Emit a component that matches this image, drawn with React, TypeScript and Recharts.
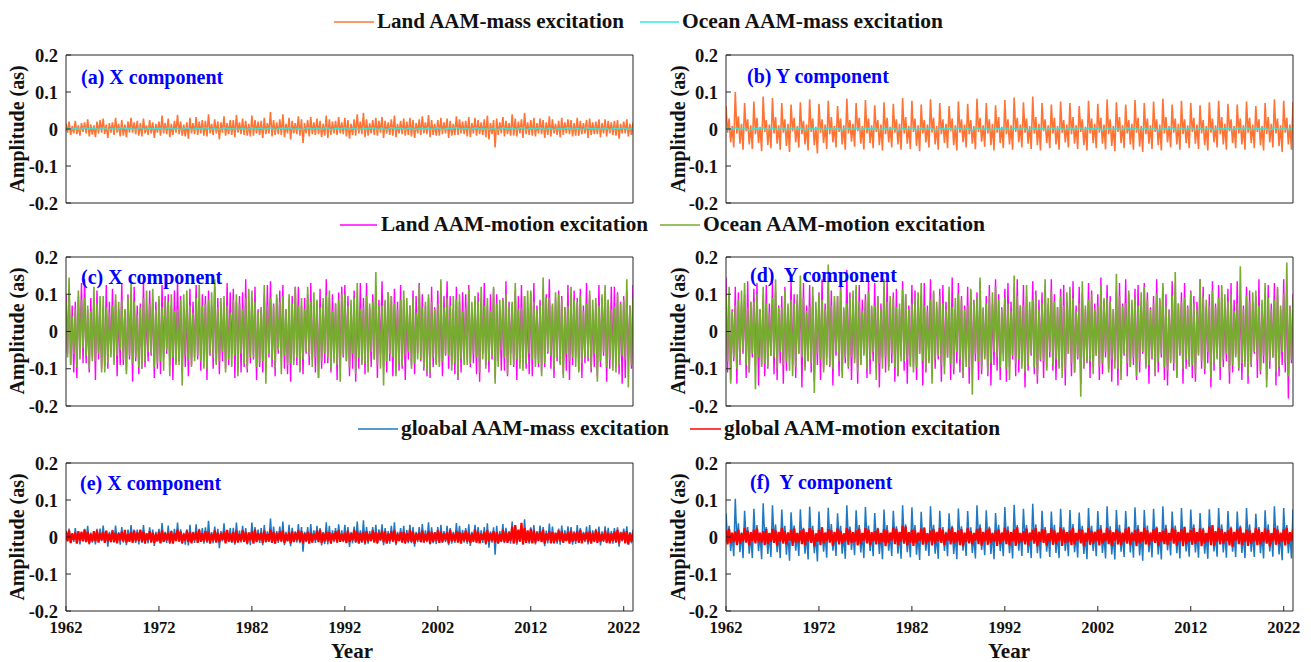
import React from "react";
import { LineChart, Line, XAxis, YAxis } from "recharts";

const FONT = '"Liberation Serif", "Times New Roman", serif';
const AX = "#262626";

const YEAR_TICKS = [1962, 1972, 1982, 1992, 2002, 2012, 2022];
const AMP_TICKS = [-0.2, -0.1, 0, 0.1, 0.2];

// values in milli-arcseconds, 6 samples per year from 1962.0 to 2023.0 (one line = 5 years)
const landMassX = [
  14,-10,20,-16,8,-12, 22,-14,10,-18,16,-8, 18,-12,26,-20,12,-15, 10,-22,20,-12,24,-10, 28,-14,12,-24,16,-10,
  18,-16,30,-10,14,-20, 24,-18,12,-22,20,-10, 30,-10,18,-14,22,-18, 16,-20,28,-12,10,-16, 24,-12,18,-24,14,-10,
  20,-18,36,-12,16,-14, 28,-22,14,-16,22,-10, 38,-14,20,-18,12,-20, 18,-26,30,-12,16,-14, 32,-16,20,-12,24,-18,
  22,-20,40,-12,14,-16, 26,-12,20,-28,18,-10, 34,-18,16,-14,24,-16, 24,-22,38,-10,18,-14, 28,-16,22,-18,14,-20,
  36,-18,24,-12,20,-16, 22,-24,30,-14,16,-12, 46,-20,24,-16,18,-14, 26,-16,40,-22,14,-12, 30,-28,22,-12,16,-14,
  34,-18,26,-38,16,-12, 24,-20,32,-14,18,-16, 28,-14,22,-22,14,-18, 36,-24,26,-16,20,-12, 22,-16,32,-12,18,-14,
  30,-20,24,-26,14,-16, 26,-18,40,-12,20,-14, 44,-22,26,-18,16,-12, 24,-16,30,-18,22,-10, 32,-24,22,-12,18,-16,
  26,-18,36,-22,14,-12, 22,-14,28,-18,20,-16, 30,-20,24,-24,16,-12, 26,-16,34,-12,18,-14, 38,-22,24,-16,14,-18,
  24,-18,30,-14,18,-12, 28,-24,22,-18,14,-16, 34,-16,26,-12,20,-14, 22,-20,32,-22,16,-12, 30,-18,24,-14,18,-16,
  26,-22,36,-28,16,-14, 24,-50,28,-16,18,-12, 32,-20,22,-14,16,-18, 40,-18,28,-20,20,-12, 26,-24,44,-14,18,-16,
  24,-18,30,-20,16,-12, 28,-14,24,-24,18,-16, 34,-20,26,-12,14,-16, 22,-22,30,-16,18,-12, 26,-14,24,-20,16,-18,
  30,-18,22,-14,16,-12, 24,-24,28,-16,18,-14, 20,-14,26,-22,16,-12, 26,-20,22,-12,18,-16, 22,-18,24,-26,14,-12,
  20,-12,26,-20,14,-16, 18,
];

const landMassY = [
  62,-10,28,-36,8,-50, 100,-12,34,-40,14,-56, 70,-6,26,-42,10,-54, 74,-14,30,-38,6,-60, 88,-8,24,-44,12,-52,
  84,-12,32,-40,10,-56, 70,-10,26,-46,14,-62, 66,-6,30,-36,8,-50, 72,-14,22,-42,12,-58, 80,-8,28,-44,6,-66,
  68,-10,26,-38,12,-54, 76,-14,32,-36,8,-50, 62,-8,28,-42,10,-56, 82,-12,24,-34,14,-48, 70,-6,30,-40,8,-55,
  78,-12,28,-38,10,-52, 64,-8,24,-44,12,-58, 72,-14,30,-36,6,-50, 68,-10,26,-42,14,-56, 84,-12,32,-40,8,-54,
  76,-8,28,-46,10,-60, 66,-12,24,-36,12,-50, 80,-10,30,-42,8,-56, 70,-14,26,-38,14,-52, 62,-6,28,-44,10,-58,
  74,-10,26,-36,12,-50, 68,-14,24,-40,8,-55, 82,-8,30,-34,10,-48, 70,-12,26,-44,14,-58, 64,-10,32,-38,6,-52,
  78,-14,26,-42,10,-56, 85,-8,30,-36,12,-50, 72,-10,28,-40,8,-54, 88,-12,32,-44,14,-58, 70,-6,26,-38,10,-52,
  66,-12,30,-42,8,-56, 74,-10,24,-36,12,-50, 70,-14,32,-40,10,-54, 62,-8,26,-44,6,-58, 76,-12,28,-38,14,-52,
  68,-10,30,-40,12,-55, 80,-14,26,-46,8,-60, 72,-8,32,-38,10,-52, 66,-12,24,-42,14,-56, 78,-10,30,-48,8,-62,
  70,-14,28,-40,10,-54, 74,-8,26,-44,12,-58, 82,-12,32,-36,8,-50, 66,-10,28,-42,14,-56, 76,-14,26,-38,10,-52,
  70,-8,30,-40,12,-54, 64,-12,24,-44,8,-58, 72,-10,28,-36,10,-50, 76,-14,32,-42,14,-56, 68,-6,26,-38,8,-52,
  66,-12,28,-42,10,-56, 74,-10,30,-38,12,-52, 62,-8,26,-44,8,-58, 70,-14,32,-36,14,-50, 80,-12,28,-46,10,-62,
  76,-10,30,-42,12,-56, 72,
];

// ocean mass terms: 2 samples per year (one line = 10 years)
const oceanMassX = [
  3,-1,2,-2,4,0,2,-1,3,-2,1,-1,3,0,2,-2,4,-1,2,0,
  2,-2,3,0,1,-1,3,-2,2,0,4,-1,2,-2,3,0,1,-1,2,-2,
  3,0,2,-1,4,-2,2,0,3,-1,1,-2,3,0,2,-1,4,-2,2,0,
  3,-1,2,-2,1,0,3,-1,2,-2,4,0,2,-1,3,-2,1,0,2,-1,
  3,-2,2,0,4,-1,2,-2,3,0,1,-1,2,-2,3,0,2,-1,4,-2,
  2,0,3,-1,2,-2,1,0,3,-1,2,-2,4,0,2,-1,3,-2,2,0,
  3,-1,2,
];

const oceanMassY = [
  2,-2,3,-1,1,-3,2,0,3,-2,2,-1,4,-2,1,-1,3,-3,2,0,
  1,-2,3,-1,2,-3,4,-1,2,-2,3,0,1,-2,2,-1,3,-3,2,-1,
  4,-2,2,-1,3,-3,1,0,2,-2,3,-1,2,-3,4,-1,2,-2,1,0,
  3,-2,2,-1,4,-3,2,0,1,-2,3,-1,2,-2,3,-1,4,-2,2,0,
  2,-3,3,-1,1,-2,4,0,2,-2,3,-1,2,-3,1,0,3,-2,2,-1,
  4,-2,1,-1,3,-3,2,0,2,-2,3,-1,4,-2,1,0,2,-3,3,-1,
  2,-2,3,
];

const landMotionX = [
  100,-60,120,-90,70,-110, 80,-125,95,-50,130,-85, 140,-85,60,-110,90,-70, 90,-130,110,-75,50,-100, 65,-95,125,-100,80,-60,
  115,-70,85,-120,60,-90, 130,-90,60,-105,100,-75, 95,-135,120,-80,70,-115, 75,-100,135,-95,55,-80, 110,-65,90,-125,80,-100,
  85,-115,125,-70,95,-60, 100,-90,70,-130,110,-85, 135,-80,95,-110,60,-95, 65,-120,115,-90,80,-70, 125,-75,80,-105,100,-65,
  95,-130,110,-65,70,-100, 120,-85,90,-115,55,-80, 70,-100,130,-90,105,-60, 115,-125,80,-70,95,-110, 105,-95,140,-110,65,-85,
  90,-75,120,-130,60,-95, 65,-110,100,-85,125,-70, 135,-95,75,-120,90,-60, 110,-70,125,-100,60,-115, 85,-135,95,-80,120,-90,
  120,-105,70,-115,90,-60, 100,-90,130,-75,60,-110, 80,-125,115,-100,70,-85, 140,-85,90,-110,100,-65, 75,-130,105,-95,120,-70,
  125,-80,95,-120,60,-100, 110,-135,70,-100,130,-85, 90,-115,130,-85,65,-95, 100,-75,120,-125,85,-60, 135,-95,80,-110,105,-80,
  95,-120,115,-70,80,-105, 125,-100,85,-130,60,-75, 70,-90,110,-115,95,-60, 130,-80,100,-105,70,-120, 90,-125,120,-95,65,-85,
  110,-85,75,-120,95,-65, 135,-100,95,-90,60,-115, 120,-130,80,-110,105,-70, 100,-75,125,-95,60,-85, 85,-115,105,-135,90,-60,
  130,-90,70,-110,100,-75, 115,-125,100,-80,65,-105, 90,-105,135,-120,80,-60, 75,-95,110,-130,95,-85, 125,-85,95,-100,60,-115,
  105,-120,130,-75,70,-95, 85,-110,120,-95,100,-60, 140,-100,70,-125,90,-80, 110,-85,95,-115,65,-105, 125,-130,80,-90,110,-70,
  90,-105,115,-125,70,-85, 130,-80,100,-110,60,-95, 75,-120,125,-95,90,-65, 110,-135,85,-100,120,-75, 120,-90,105,-115,80,-140,
  95,-125,110,-80,70,-100, 125,
];

const oceanMotionX = [
  80,-70,145,-90,40,-60, 60,-95,110,-75,85,-45, 90,-65,70,-100,55,-80, 120,-80,75,-60,95,-110, 95,-110,65,-85,50,-70,
  70,-90,100,-65,80,-50, 85,-75,60,-115,90,-65, 130,-85,80,-70,45,-95, 65,-100,90,-80,110,-55, 75,-60,115,-95,60,-85,
  95,-80,65,-105,85,-50, 80,-120,100,-70,55,-90, 60,-90,85,-145,100,-65, 110,-75,70,-95,50,-80, 90,-65,125,-80,70,-100,
  75,-100,85,-60,105,-70, 140,-90,65,-80,90,-55, 95,-110,70,-75,50,-95, 85,-65,100,-120,75,-60, 60,-85,90,-100,115,-70,
  110,-70,80,-95,55,-85, 65,-80,125,-140,70,-60, 90,-75,70,-100,100,-50, 80,-115,95,-65,60,-90, 100,-85,75,-90,120,-70,
  70,-110,90,-75,60,-55, 120,-65,80,-95,105,-70, 85,-125,65,-80,90,-60, 95,-70,110,-100,55,-85, 75,-90,85,-135,100,-65,
  100,-80,70,-95,85,-60, 90,-115,130,-70,60,-90, 65,-85,95,-110,75,-55, 80,-75,160,-90,70,-100, 70,-145,85,-80,105,-60,
  95,-70,75,-120,60,-85, 85,-90,110,-65,90,-55, 70,-100,90,-85,50,-75, 125,-75,65,-95,80,-110, 100,-110,80,-70,60,-90,
  75,-95,140,-80,65,-60, 90,-65,70,-105,95,-85, 85,-125,100,-75,55,-90, 65,-90,115,-85,80,-60, 95,-70,80,-110,120,-75,
  70,-100,90,-80,55,-65, 120,-140,75,-95,85,-50, 85,-70,100,-115,70,-90, 80,-90,130,-75,60,-100, 65,-105,95,-85,110,-60,
  110,-75,80,-95,60,-85, 70,-120,145,-85,90,-55, 90,-65,75,-100,105,-70, 100,-90,85,-125,65,-60, 70,-80,120,-70,85,-95,
  80,-110,95,-85,55,-70, 75,-70,110,-100,85,-60, 90,-135,70,-80,100,-55, 125,-95,85,-75,60,-105, 65,-110,100,-90,75,-65,
  85,-75,140,-150,70,-90, 90,
];

const landMotionY = [
  145,-110,95,-130,60,-80, 120,-140,105,-90,70,-60, 100,-125,135,-110,80,-70, 115,-95,130,-145,60,-90, 90,-120,125,-100,75,-65,
  135,-115,110,-130,70,-85, 95,-140,120,-105,65,-75, 140,-90,100,-125,85,-60, 110,-150,130,-95,70,-80, 125,-110,95,-135,60,-90,
  105,-130,140,-100,75,-70, 120,-95,110,-145,80,-65, 95,-120,130,-110,60,-85, 165,-100,105,-130,70,-75, 115,-140,125,-90,85,-60,
  100,-125,135,-115,65,-80, 130,-100,95,-150,75,-70, 120,-110,140,-95,80,-85, 105,-135,115,-120,60,-65, 135,-105,100,-140,70,-90,
  125,-95,110,-130,85,-60, 95,-145,130,-110,70,-80, 140,-120,105,-100,65,-75, 115,-135,125,-95,80,-70, 100,-130,145,-115,60,-85,
  130,-110,95,-125,70,-65, 120,-140,110,-100,85,-80, 105,-130,135,-115,60,-70, 95,-120,125,-145,75,-90, 140,-105,100,-130,65,-60,
  115,-135,130,-95,80,-75, 100,-120,140,-110,70,-85, 125,-150,95,-105,60,-65, 135,-115,110,-140,85,-80, 105,-125,120,-100,75,-70,
  140,-105,100,-130,65,-90, 115,-95,125,-145,80,-60, 95,-120,135,-110,70,-75, 120,-140,105,-100,60,-85, 130,-125,110,-95,75,-65,
  100,-130,145,-115,85,-70, 125,-100,95,-135,60,-80, 110,-145,130,-105,75,-65, 140,-120,100,-95,70,-90, 115,-130,125,-110,80,-60,
  130,-95,105,-140,65,-75, 95,-120,140,-110,85,-70, 120,-130,100,-145,60,-80, 135,-105,115,-125,75,-65, 105,-140,130,-100,70,-90,
  110,-125,95,-135,80,-60, 140,-100,120,-115,65,-85, 100,-150,135,-105,75,-70, 125,-130,105,-95,60,-80, 115,-140,130,-110,85,-65,
  135,-105,100,-130,70,-75, 120,-140,110,-95,80,-60, 95,-125,140,-115,65,-85, 105,-130,125,-100,75,-70, 130,-145,115,-120,60,-90,
  140,-110,120,-180,70,-85, 100,
];

const oceanMotionY = [
  95,-80,120,-140,55,-70, 70,-100,85,-75,110,-50, 130,-90,65,-110,80,-60, 80,-155,100,-70,60,-95, 120,-85,75,-95,50,-65,
  90,-70,140,-100,65,-55, 65,-90,110,-80,75,-105, 85,-120,75,-95,100,-60, 150,-70,90,-105,55,-80, 70,-85,120,-165,80,-60,
  100,-75,85,-110,60,-90, 180,-90,70,-100,95,-55, 95,-80,115,-125,65,-70, 75,-95,90,-70,110,-85, 125,-110,80,-90,55,-65,
  85,-100,105,-75,70,-55, 70,-130,95,-85,60,-100, 140,-70,80,-105,95,-60, 90,-95,65,-120,75,-80, 115,-80,100,-75,60,-95,
  75,-110,90,-95,105,-60, 130,-80,70,-100,55,-85, 85,-140,110,-75,80,-65, 95,-90,75,-115,60,-70, 120,-85,65,-100,90,-55,
  100,-75,85,-120,60,-95, 70,-95,115,-170,80,-60, 90,-80,145,-100,65,-75, 75,-110,95,-85,105,-55, 120,-70,85,-95,60,-80,
  90,-100,75,-130,55,-65, 150,-85,95,-75,70,-100, 70,-110,125,-90,80,-60, 85,-95,100,-120,60,-75, 75,-80,140,-105,90,-55,
  110,-90,80,-75,65,-100, 95,-125,70,-100,105,-60, 120,-85,90,-110,55,-70, 75,-175,135,-95,70,-80, 85,-80,100,-115,60,-65,
  70,-95,125,-85,90,-55, 90,-110,80,-75,60,-100, 155,-100,95,-130,70,-60, 75,-85,110,-95,85,-70, 90,-120,70,-80,105,-55,
  120,-100,85,-90,60,-70, 75,-115,100,-80,90,-60, 130,-95,70,-105,55,-85, 95,-85,160,-125,75,-60, 80,-100,90,-75,65,-95,
  105,-90,75,-115,60,-65, 140,-80,95,-100,85,-55, 70,-125,110,-85,65,-75, 90,-95,125,-75,100,-60, 80,-110,100,-90,55,-70,
  75,-100,175,-85,60,-95, 95,-120,80,-90,105,-55, 110,-75,70,-105,85,-65, 130,-150,90,-80,60,-70, 85,-110,120,-95,70,-55,
  100,-85,185,-120,65,-75, 90,
];

const globalMotionX = [
  15,-12,18,-16,10,-8, 12,-18,16,-10,14,-12, 20,-14,14,-17,8,-11, 16,-12,18,-15,11,-9, 13,-16,17,-12,9,-14,
  18,-14,12,-17,10,-9, 15,-12,19,-15,8,-13, 14,-16,17,-11,12,-10, 19,-13,15,-18,10,-8, 16,-15,12,-16,9,-12,
  14,-17,18,-13,11,-9, 12,-15,16,-18,10,-11, 20,-12,15,-16,8,-10, 17,-14,13,-17,12,-9, 15,-16,19,-13,10,-12,
  16,-12,14,-18,9,-10, 18,-15,12,-14,11,-8, 15,-17,19,-12,10,-13, 13,-16,17,-15,8,-11, 18,-13,14,-17,12,-9,
  15,-18,20,-14,10,-9, 12,-16,17,-13,9,-12, 19,-15,14,-18,11,-10, 16,-12,18,-16,8,-11, 13,-17,15,-14,12,-9,
  18,-13,16,-17,10,-11, 14,-18,12,-15,9,-8, 17,-14,19,-16,11,-12, 15,-12,13,-18,10,-9, 16,-15,18,-13,8,-11,
  12,-16,17,-14,10,-9, 19,-13,15,-18,11,-12, 14,-17,16,-12,9,-10, 18,-15,13,-16,12,-8, 17,-14,15,-18,10,-11,
  16,-12,18,-17,9,-10, 13,-15,14,-16,11,-12, 19,-13,15,-18,10,-9, 12,-14,17,-15,8,-11, 16,-18,14,-13,12,-10,
  18,-16,15,-14,10,-9, 13,-17,19,-12,9,-11, 16,-15,14,-18,11,-10, 17,-13,12,-16,10,-12, 20,-15,15,-17,9,-8,
  14,-18,18,-13,11,-10, 16,-15,13,-17,9,-12, 19,-14,15,-16,12,-10, 28,-18,32,-15,20,-12, 38,-20,24,-16,18,-14,
  22,-17,18,-15,12,-10, 16,-14,19,-18,10,-9, 15,-16,13,-17,11,-12, 18,-12,16,-15,9,-10, 14,-18,17,-13,12,-11,
  16,-15,19,-17,10,-9, 13,-14,15,-18,11,-12, 18,-16,14,-13,9,-10, 17,-15,12,-17,10,-11, 15,-14,19,-16,12,-9,
  14,-17,16,-20,10,-12, 12,
];

const globalMotionY = [
  18,-20,22,-16,12,-14, 15,-22,20,-18,10,-12, 24,-15,17,-21,13,-11, 19,-17,23,-14,12,-15, 16,-22,21,-19,11,-13,
  22,-16,18,-23,14,-12, 25,-18,16,-20,12,-10, 20,-24,23,-15,11,-14, 17,-19,21,-22,13,-12, 24,-16,18,-25,10,-13,
  19,-22,26,-17,12,-11, 21,-15,18,-24,14,-13, 23,-20,16,-18,10,-12, 25,-21,20,-16,13,-14, 18,-23,22,-19,11,-10,
  24,-17,19,-22,13,-12, 16,-20,23,-18,11,-14, 21,-25,18,-16,12,-10, 26,-19,22,-21,14,-13, 30,-18,28,-22,13,-15,
  20,-24,18,-17,12,-11, 23,-21,25,-19,10,-13, 17,-23,21,-18,14,-12, 24,-16,19,-22,11,-10, 22,-20,26,-17,13,-14,
  18,-22,21,-25,12,-13, 24,-17,16,-20,11,-10, 22,-19,25,-23,14,-12, 19,-21,23,-16,10,-13, 17,-24,20,-18,12,-11,
  25,-19,18,-22,13,-12, 21,-24,26,-17,11,-14, 16,-20,23,-21,12,-10, 20,-18,24,-25,14,-13, 22,-16,19,-23,10,-12,
  23,-21,17,-19,12,-11, 26,-24,20,-16,13,-14, 18,-22,25,-20,11,-10, 21,-17,19,-25,12,-13, 24,-21,16,-18,14,-12,
  20,-23,22,-17,11,-12, 25,-19,18,-24,13,-10, 21,-20,16,-22,12,-14, 23,-18,26,-21,10,-11, 19,-25,22,-17,14,-13,
  24,-20,18,-22,12,-11, 21,-16,25,-24,13,-14, 17,-19,23,-21,11,-10, 26,-18,20,-23,14,-12, 22,-25,27,-19,12,-13,
  19,-21,24,-18,13,-12, 23,-25,20,-17,11,-14, 28,-22,32,-24,16,-13, 25,-20,21,-18,12,-11, 18,-23,24,-26,14,-10,
  22,-19,26,-21,12,-13, 20,-24,18,-17,11,-12, 25,-22,21,-20,13,-14, 23,-18,19,-25,10,-11, 24,-21,20,-19,12,-13,
  21,-23,25,-18,13,-12, 20,
];

// global mass = land + ocean (ocean has 2 samples per year, land 6)
const globalMassX = landMassX.map((v, i) => v + oceanMassX[Math.floor(i / 3)]);
const globalMassY = landMassY.map((v, i) => v + oceanMassY[Math.floor(i / 3)]);

type Pt = { t: number; v: number };
function toSeries(vals: number[], perYear: number): Pt[] {
  return vals.map((v, i) => ({ t: 1962 + i / perYear, v: v / 1000 }));
}

const C_ORANGE = "#FF7435";
const C_CYAN = "#40E0D0";
const C_MAGENTA = "#FF00FF";
const C_GREEN = "#77AC30";
const C_BLUE = "#1F78C1";
const C_RED = "#FF0000";

type S = { data: Pt[]; color: string; sw: number };

const tickFont = { fontFamily: FONT, fontWeight: 700, fill: "#111" };

function Panel({ x, y, w, h, series, years }: { x: number; y: number; w: number; h: number; series: S[]; years: boolean }) {
  return (
    <div style={{ position: "absolute", left: x - 66, top: y - 10 }}>
      <LineChart width={w + 76} height={h + 50} margin={{ top: 9, right: 9, bottom: 0, left: 0 }}>
        <XAxis
          xAxisId="b"
          dataKey="t"
          type="number"
          domain={[1962, 2023]}
          ticks={YEAR_TICKS}
          allowDataOverflow
          height={40}
          stroke={AX}
          tickSize={-5}
          tickMargin={15}
          tickLine={years}
          tick={years ? { ...tickFont, fontSize: 16.5 } : false}
        />
        <XAxis
          xAxisId="t"
          orientation="top"
          type="number"
          domain={[1962, 2023]}
          ticks={YEAR_TICKS}
          allowDataOverflow
          height={1}
          stroke={AX}
          tickSize={-5}
          tickLine={years}
          tick={false}
        />
        <YAxis
          yAxisId="l"
          type="number"
          domain={[-0.2, 0.2]}
          ticks={AMP_TICKS}
          allowDataOverflow
          width={66}
          stroke={AX}
          tickSize={-5}
          tickMargin={13}
          tickFormatter={(v: number) => (v === 0 ? "0" : v.toFixed(1))}
          tick={{ ...tickFont, fontSize: 18.5 }}
        />
        <YAxis
          yAxisId="r"
          orientation="right"
          type="number"
          domain={[-0.2, 0.2]}
          ticks={AMP_TICKS}
          allowDataOverflow
          width={1}
          stroke={AX}
          tickSize={-5}
          tick={false}
        />
        {series.map((s, i) => (
          <Line
            key={i}
            xAxisId="b"
            yAxisId="l"
            data={s.data}
            dataKey="v"
            type="linear"
            stroke={s.color}
            strokeWidth={s.sw}
            dot={false}
            isAnimationActive={false}
          />
        ))}
      </LineChart>
    </div>
  );
}

const legends = [
  { y: 21, items: [
    { x1: 334, x2: 374, tx: 377, len: 247, color: C_ORANGE, text: "Land AAM-mass excitation" },
    { x1: 640, x2: 679, tx: 682, len: 261, color: "#33E6E6", text: "Ocean AAM-mass excitation" },
  ] },
  { y: 224, items: [
    { x1: 340, x2: 377, tx: 381, len: 267, color: C_MAGENTA, text: "Land AAM-motion excitation" },
    { x1: 660, x2: 700, tx: 703, len: 282, color: C_GREEN, text: "Ocean AAM-motion excitation" },
  ] },
  { y: 428, items: [
    { x1: 358, x2: 398, tx: 401, len: 268, color: C_BLUE, text: "gloabal AAM-mass excitation" },
    { x1: 690, x2: 721, tx: 724, len: 276, color: C_RED, text: "global AAM-motion excitation" },
  ] },
];

const panelLabels = [
  { x: 81, y: 77, text: "(a) X component" },
  { x: 747, y: 76, text: "(b) Y component" },
  { x: 81, y: 277, text: "(c) X component" },
  { x: 750, y: 275, text: "(d)  Y component" },
  { x: 80, y: 483, text: "(e) X component" },
  { x: 750, y: 482, text: "(f)  Y component" },
];

const L = 66;
const R = 726;
const W = 567;
const ROWS = [55, 257, 463];
const H = 148;

export default function App() {
  return (
    <div style={{ position: "absolute", left: 0, top: 0, width: 1311, height: 662, background: "#fff", overflow: "hidden" }}>
      <Panel x={L} y={ROWS[0]} w={W} h={H} years={false}
        series={[{ data: toSeries(landMassX, 6), color: C_ORANGE, sw: 1.6 }, { data: toSeries(oceanMassX, 2), color: C_CYAN, sw: 1.5 }]} />
      <Panel x={R} y={ROWS[0]} w={W} h={H} years={false}
        series={[{ data: toSeries(landMassY, 6), color: C_ORANGE, sw: 1.6 }, { data: toSeries(oceanMassY, 2), color: C_CYAN, sw: 1.5 }]} />
      <Panel x={L} y={ROWS[1]} w={W} h={H + 1} years={false}
        series={[{ data: toSeries(landMotionX, 6), color: C_MAGENTA, sw: 1.4 }, { data: toSeries(oceanMotionX, 6), color: C_GREEN, sw: 1.6 }]} />
      <Panel x={R} y={ROWS[1]} w={W} h={H + 1} years={false}
        series={[{ data: toSeries(landMotionY, 6), color: C_MAGENTA, sw: 1.4 }, { data: toSeries(oceanMotionY, 6), color: C_GREEN, sw: 1.6 }]} />
      <Panel x={L} y={ROWS[2]} w={W} h={H} years={true}
        series={[{ data: toSeries(globalMassX, 6), color: C_BLUE, sw: 1.5 }, { data: toSeries(globalMotionX, 6), color: C_RED, sw: 2.2 }]} />
      <Panel x={R} y={ROWS[2]} w={W} h={H} years={true}
        series={[{ data: toSeries(globalMassY, 6), color: C_BLUE, sw: 1.5 }, { data: toSeries(globalMotionY, 6), color: C_RED, sw: 2.2 }]} />

      <svg width={1311} height={662} style={{ position: "absolute", left: 0, top: 0, pointerEvents: "none" }}
        fontFamily={FONT} fontWeight={700}>
        {legends.map((row, ri) =>
          row.items.map((it, ii) => (
            <g key={`${ri}-${ii}`}>
              <line x1={it.x1} x2={it.x2} y1={row.y + 1} y2={row.y + 1} stroke={it.color} strokeWidth={1.5} />
              <text x={it.tx} y={row.y} fontSize={21} fill="#111" dominantBaseline="central"
                textLength={it.len} lengthAdjust="spacingAndGlyphs">{it.text}</text>
            </g>
          ))
        )}
        {ROWS.map((ry, ri) =>
          [17, 678].map((cx) => (
            <text key={`${ri}-${cx}`} transform={`translate(${cx},${ry + H / 2}) rotate(-90)`} textAnchor="middle"
              dominantBaseline="central" fontSize={20} fill="#111">Amplitude (as)</text>
          ))
        )}
        <text x={352} y={651} textAnchor="middle" dominantBaseline="central" fontSize={21} fill="#111">Year</text>
        <text x={1009} y={651} textAnchor="middle" dominantBaseline="central" fontSize={21} fill="#111">Year</text>
        {panelLabels.map((p) => (
          <text key={p.text + p.x + p.y} x={p.x} y={p.y} dominantBaseline="central" fontSize={20} fill="#0000FF"
            style={{ whiteSpace: "pre" }}>{p.text}</text>
        ))}
      </svg>
    </div>
  );
}
